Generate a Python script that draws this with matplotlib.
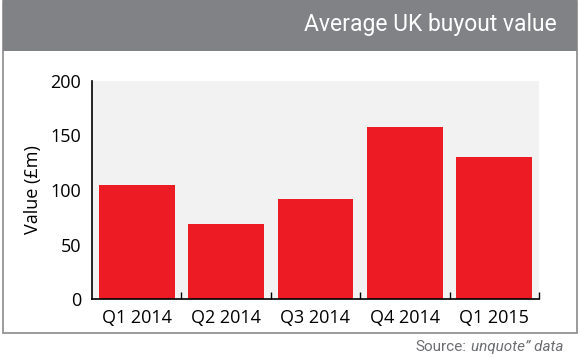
import matplotlib.pyplot as plt
from matplotlib.patches import Rectangle

# Data
quarters = ['Q1 2014', 'Q2 2014', 'Q3 2014', 'Q4 2014', 'Q1 2015']
values = [105, 69, 92, 158, 130]
yticks = [0, 50, 100, 150, 200]

red = '#ed1c24'
header_grey = '#808285'

plt.rcParams['font.family'] = ['Open Sans', 'DejaVu Sans']

fig = plt.figure(figsize=(5.8, 3.58), dpi=100)

# outer frame and header band
fig.patches.append(Rectangle((3 / 580, 25 / 358), 574 / 580, 332 / 358, transform=fig.transFigure,
                             facecolor='white', edgecolor='#8a8a8a', linewidth=1.2, zorder=0))
fig.patches.append(Rectangle((3 / 580, 307 / 358), 574 / 580, 51 / 358, transform=fig.transFigure,
                             facecolor=header_grey, edgecolor='none', zorder=1))
fig.text(557 / 580, 333 / 358, 'Average UK buyout value', color='white', fontsize=16.5,
         family='Roboto', ha='right', va='center')

ax = fig.add_axes([92 / 580, 59 / 358, 447 / 580, 218 / 358])
ax.set_zorder(3)
ax.set_facecolor('#f2f2f2')
ax.bar(range(len(quarters)), values, width=0.85, color=red, zorder=2)

ax.set_xlim(-0.5, len(quarters) - 0.5)
ax.set_ylim(0, 200)
ax.set_yticks(yticks)
ax.set_xticks(range(len(quarters)))
ax.set_xticklabels(quarters)
ax.set_xticks([i + 0.5 for i in range(len(quarters))], minor=True)

ax.tick_params(axis='y', length=0, pad=8, labelsize=13)
ax.tick_params(axis='x', which='major', length=0, pad=7, labelsize=13)
ax.tick_params(axis='x', which='minor', direction='in', length=5, width=1, color='black')

for side in ['top', 'right']:
    ax.spines[side].set_visible(False)
for side in ['left', 'bottom']:
    ax.spines[side].set_color('black')
    ax.spines[side].set_linewidth(1.2)

ax.set_ylabel('Value (£m)', fontsize=13, labelpad=6)

fig.text(563 / 580, 11 / 358, 'unquote\u201d data', color='#6d6e71', fontsize=11,
         family='Roboto', style='italic', ha='right', va='center')
fig.text(466 / 580, 11 / 358, 'Source:', color='#6d6e71', fontsize=11,
         family='Roboto', ha='right', va='center')

fig.savefig('out.png', dpi=100)
